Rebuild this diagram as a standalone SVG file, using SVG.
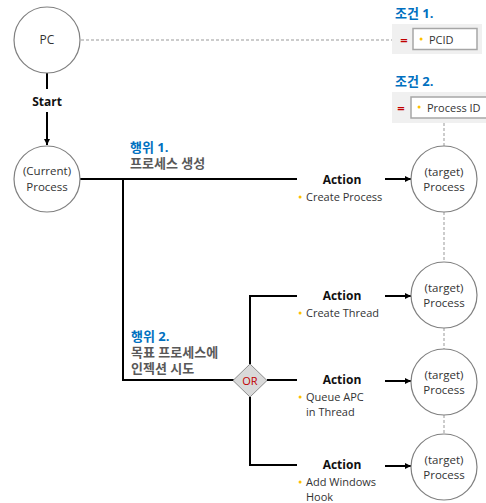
<svg xmlns="http://www.w3.org/2000/svg" width="486" height="503" viewBox="0 0 486 503">
  <style>
    text { font-family: "Open Sans", "Noto Sans CJK KR", sans-serif; }
    .node { fill: #fff; stroke: #808080; stroke-width: 1.2; }
    .ntext { font-size: 11.5px; fill: #333; text-anchor: middle; }
    .wire { stroke: #000; stroke-width: 2; fill: none; }
    .dash { stroke: #999; stroke-width: 1; stroke-dasharray: 3 2; fill: none; }
    .act { font-size: 12px; font-weight: bold; fill: #111; text-anchor: middle; }
    .item { font-size: 11px; fill: #333; }
    .bullet { fill: #ffc000; }
    .head { font-size: 13px; font-weight: bold; fill: #0070c0; }
    .desc { font-size: 13px; font-weight: bold; fill: #595959; }
    .eq { font-size: 13px; font-weight: bold; fill: #c00000; text-anchor: middle; }
  </style>
  <defs>
    <marker id="arrow" markerWidth="8" markerHeight="8" refX="6" refY="4" orient="auto" markerUnits="userSpaceOnUse">
      <path d="M0,1 L6,4 L0,7 Z" fill="#000"/>
    </marker>
  </defs>

  <!-- connectors -->
  <g id="connectors">
    <line class="dash" x1="81" y1="40" x2="393" y2="40"/>
    <line class="dash" x1="444" y1="123" x2="444" y2="146"/>
    <line class="dash" x1="444" y1="212" x2="444" y2="262"/>
    <line class="dash" x1="444" y1="328" x2="444" y2="349"/>
    <line class="dash" x1="444" y1="415" x2="444" y2="434"/>

    <line class="wire" x1="47" y1="73" x2="47" y2="89"/>
    <line class="wire" x1="47" y1="112" x2="47" y2="145" marker-end="url(#arrow)"/>

    <line class="wire" x1="80" y1="179" x2="297" y2="179"/>
    <polyline class="wire" points="123,179 123,380 234,380"/>
    <line class="wire" x1="250" y1="296" x2="250" y2="364"/>
    <line class="wire" x1="250" y1="397" x2="250" y2="465"/>
    <line class="wire" x1="249" y1="296" x2="297" y2="296"/>
    <line class="wire" x1="267" y1="380" x2="297" y2="380"/>
    <line class="wire" x1="249" y1="465" x2="297" y2="465"/>

    <line class="wire" x1="385" y1="179" x2="411" y2="179" marker-end="url(#arrow)"/>
    <line class="wire" x1="385" y1="296" x2="411" y2="296" marker-end="url(#arrow)"/>
    <line class="wire" x1="385" y1="381" x2="411" y2="381" marker-end="url(#arrow)"/>
    <line class="wire" x1="385" y1="466" x2="411" y2="466" marker-end="url(#arrow)"/>
  </g>

  <!-- PC -->
  <g id="pc">
    <circle class="node" cx="47" cy="40" r="33"/>
    <text class="ntext" x="47" y="44" style="font-size:12px">PC</text>
  </g>
  <text x="47" y="106" class="act">Start</text>

  <!-- current process -->
  <g id="current-process">
    <circle class="node" cx="47" cy="179" r="33"/>
    <text class="ntext" x="47" y="175">(Current)</text>
    <text class="ntext" x="47" y="191">Process</text>
  </g>

  <!-- conditions -->
  <g id="cond1">
    <text class="head" x="395" y="18">조건 1.</text>
    <rect x="392" y="24" width="90" height="30" fill="#f0f0f0"/>
    <text class="eq" x="404" y="45">=</text>
    <rect x="413" y="28.5" width="64" height="21" fill="#fff" stroke="#a6a6a6" stroke-width="1.5"/>
    <circle class="bullet" cx="421" cy="39" r="1.5"/>
    <text class="item" x="429" y="43.5">PCID</text>
  </g>
  <g id="cond2">
    <text class="head" x="395" y="86">조건 2.</text>
    <rect x="392" y="92" width="94" height="31" fill="#f0f0f0"/>
    <text class="eq" x="401" y="113">=</text>
    <rect x="411" y="97" width="76" height="21" fill="#fff" stroke="#a6a6a6" stroke-width="1.5"/>
    <circle class="bullet" cx="419" cy="107" r="1.5"/>
    <text class="item" x="427" y="111.5">Process ID</text>
  </g>

  <!-- behaviours -->
  <g id="behaviour1">
    <text class="head" x="130" y="152">행위 1.</text>
    <text class="desc" x="130" y="168">프로세스 생성</text>
  </g>
  <g id="behaviour2">
    <text class="head" x="131" y="341">행위 2.</text>
    <text class="desc" x="131" y="357">목표 프로세스에</text>
    <text class="desc" x="131" y="373">인젝션 시도</text>
  </g>

  <!-- OR gate -->
  <g id="or-gate">
    <polygon points="250,364 267,380.5 250,397 233,380.5" fill="#d9d9d9" stroke="#8c8c8c" stroke-width="1"/>
    <text x="250" y="385" font-size="11" fill="#c00000" text-anchor="middle">OR</text>
  </g>

  <!-- actions -->
  <g id="action1">
    <text class="act" x="342" y="184">Action</text>
    <circle class="bullet" cx="300" cy="197" r="1.5"/>
    <text class="item" x="306" y="201">Create Process</text>
  </g>
  <g id="action2">
    <text class="act" x="342" y="300">Action</text>
    <circle class="bullet" cx="300" cy="313" r="1.5"/>
    <text class="item" x="306" y="317">Create Thread</text>
  </g>
  <g id="action3">
    <text class="act" x="342" y="384">Action</text>
    <circle class="bullet" cx="300" cy="397" r="1.5"/>
    <text class="item" x="306" y="401">Queue APC</text>
    <text class="item" x="306" y="416">in Thread</text>
  </g>
  <g id="action4">
    <text class="act" x="342" y="469">Action</text>
    <circle class="bullet" cx="300" cy="482" r="1.5"/>
    <text class="item" x="306" y="486">Add Windows</text>
    <text class="item" x="306" y="501">Hook</text>
  </g>

  <!-- target processes -->
  <g id="target1">
    <circle class="node" cx="444" cy="179" r="33"/>
    <text class="ntext" x="444" y="176">(target)</text>
    <text class="ntext" x="444" y="191">Process</text>
  </g>
  <g id="target2">
    <circle class="node" cx="444" cy="295" r="33"/>
    <text class="ntext" x="444" y="292">(target)</text>
    <text class="ntext" x="444" y="307">Process</text>
  </g>
  <g id="target3">
    <circle class="node" cx="444" cy="382" r="33"/>
    <text class="ntext" x="444" y="379">(target)</text>
    <text class="ntext" x="444" y="394">Process</text>
  </g>
  <g id="target4">
    <circle class="node" cx="444" cy="467" r="33"/>
    <text class="ntext" x="444" y="464">(target)</text>
    <text class="ntext" x="444" y="479">Process</text>
  </g>
</svg>
